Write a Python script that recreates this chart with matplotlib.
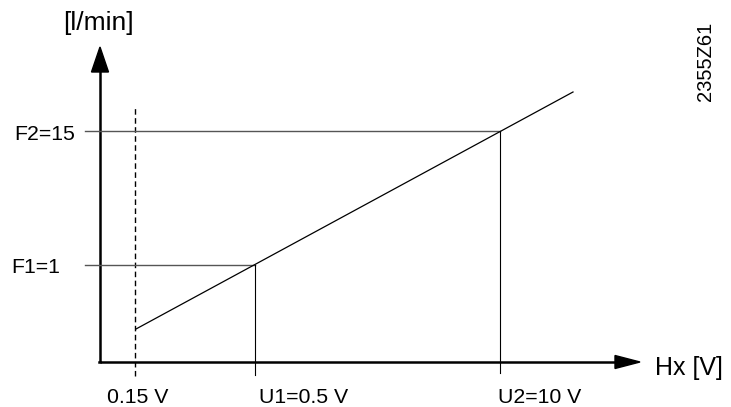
import matplotlib
matplotlib.use("Agg")
import matplotlib.pyplot as plt
from matplotlib.patches import Polygon

plt.rcParams['font.family'] = ['Liberation Sans', 'DejaVu Sans']

# Schematic diagram coordinates (origin at axis crossing)
x_marks = [3.5, 15.5, 40.0]            # 0.15 V, U1, U2 positions
x_labels = ["0.15 V", "U1=0.5 V", "U2=10 V"]
y_marks = [9.75, 23.1]                 # F1, F2 positions
y_labels = ["F1=1", "F2=15"]
line_x = [3.6, 15.5, 40.0, 47.3]
line_y = [3.3, 9.75, 23.1, 27.0]
x_axis_end = 54.0
y_axis_end = 31.5

fig = plt.figure(figsize=(7.31, 4.07), dpi=100)
ax = fig.add_axes([0, 0, 1, 1])
ax.set_xlim(-10, 63.1)
ax.set_ylim(-4.5, 36.2)
ax.axis('off')

# axes lines
ax.plot([0, x_axis_end - 2.4], [0, 0], color='black', lw=1.8, solid_capstyle='butt')
ax.plot([0, 0], [0, y_axis_end - 2.4], color='black', lw=1.8, solid_capstyle='butt')
ax.plot([-0.1, 0], [0, 0], color='black', lw=1.8)
# arrowheads
ax.add_patch(Polygon([[x_axis_end - 2.5, 0.65], [x_axis_end, 0], [x_axis_end - 2.5, -0.65]],
                     closed=True, color='black'))
ax.add_patch(Polygon([[-0.85, y_axis_end - 2.5], [0, y_axis_end], [0.85, y_axis_end - 2.5]],
                     closed=True, color='black'))

# dashed 0.15 V line
ax.plot([x_marks[0], x_marks[0]], [-1.4, 25.4], color='black', lw=1.0, ls=(0, (4, 2.5)))

# horizontal reference lines F1, F2
ax.plot([-1.5, x_marks[1]], [y_marks[0], y_marks[0]], color='#555555', lw=1.0)
ax.plot([-1.5, x_marks[2]], [y_marks[1], y_marks[1]], color='#555555', lw=1.0)
# vertical reference lines U1, U2
ax.plot([x_marks[1], x_marks[1]], [-1.3, y_marks[0]], color='black', lw=0.8)
ax.plot([x_marks[2], x_marks[2]], [-1.1, y_marks[1]], color='black', lw=0.8)

# characteristic line
ax.plot([line_x[0], line_x[-1]], [line_y[0], line_y[-1]], color='black', lw=0.9)

fs = 15.3
# x labels: 0.15 V centred on dashed line, others start just at their line
ax.text(x_marks[0] + 0.25, -4.1, x_labels[0], ha='center', va='baseline', fontsize=fs)
ax.text(x_marks[1] + 0.35, -4.1, x_labels[1], ha='left', va='baseline', fontsize=fs)
ax.text(x_marks[2] - 0.2, -4.1, x_labels[2], ha='left', va='baseline', fontsize=fs)
# y labels
ax.text(-4.0, y_marks[0] - 0.85, y_labels[0], ha='right', va='baseline', fontsize=fs)
ax.text(-2.5, y_marks[1] - 0.85, y_labels[1], ha='right', va='baseline', fontsize=fs)

ax.text(-0.2, 33.2, "[l/min]", ha='center', va='baseline', fontsize=19)
ax.text(55.5, -1.3, "Hx [V]", ha='left', va='baseline', fontsize=18)
ax.text(60.55, 30.05, "2355Z61", ha='center', va='center', rotation=90, fontsize=14.5)

fig.savefig("out.png", dpi=100)
